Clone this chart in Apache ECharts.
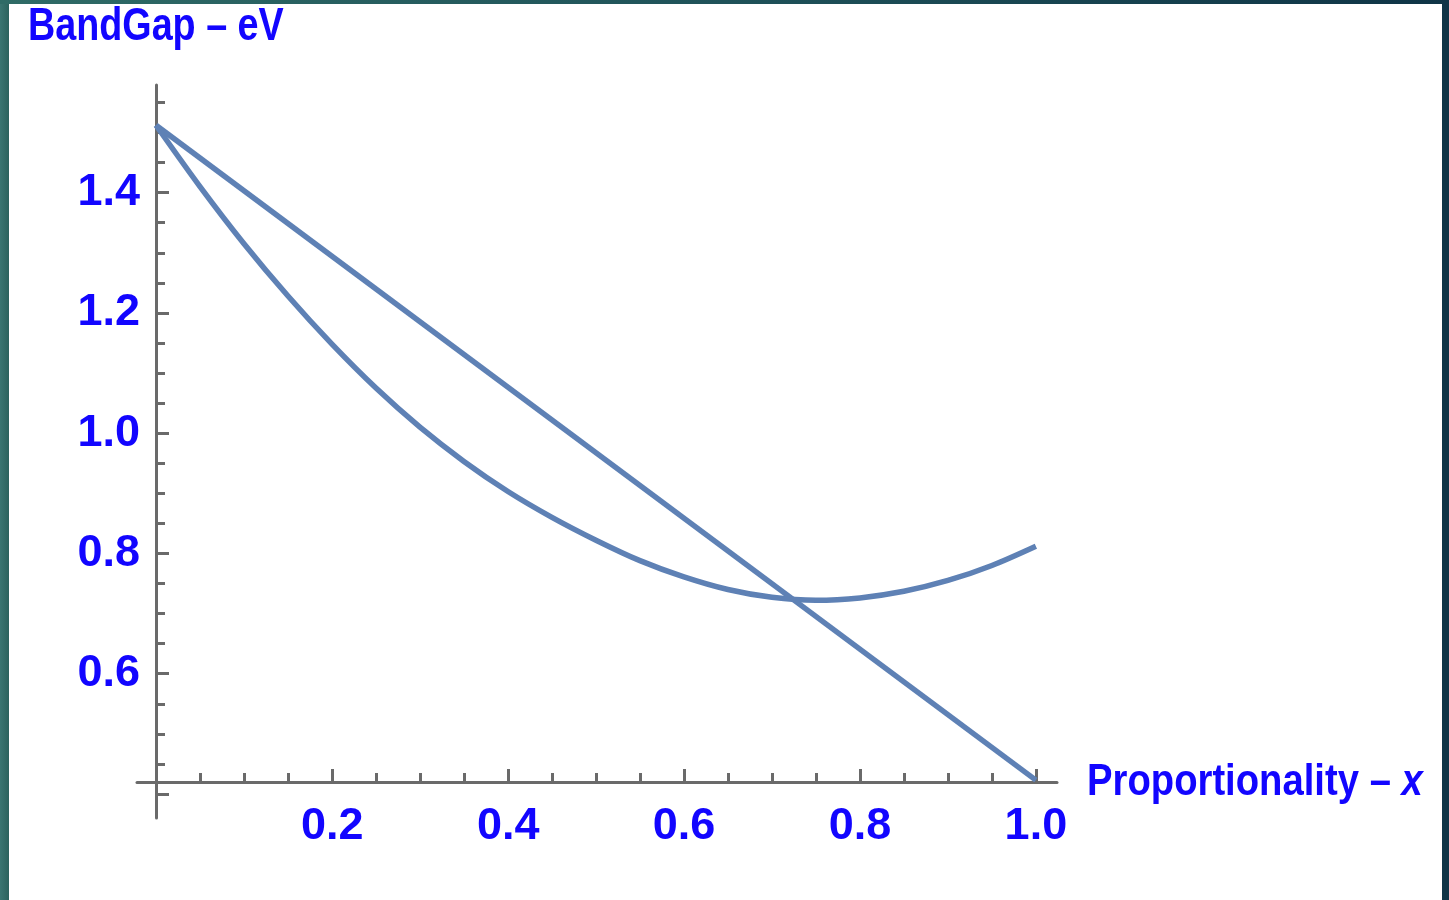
<!DOCTYPE html>
<html>
<head>
<meta charset="utf-8">
<title>BandGap vs Proportionality</title>
<script src="https://cdn.jsdelivr.net/npm/echarts@6/dist/echarts.min.js"></script>
<style>
  html, body { margin: 0; padding: 0; background: #ffffff; }
  #chart { width: 1449px; height: 900px; }
</style>
</head>
<body>
<div id="chart"></div>
<script>
// Composition x (0 … 1) and band gap values in eV
const composition = [0, 0.05, 0.1, 0.15, 0.2, 0.25, 0.3, 0.35, 0.4, 0.45, 0.5,
                     0.55, 0.6, 0.65, 0.7, 0.75, 0.8, 0.85, 0.9, 0.95, 1.0];
const bowedGap    = [1.512, 1.410, 1.315, 1.228, 1.148, 1.075, 1.010, 0.953, 0.903, 0.860, 0.822,
                     0.788, 0.761, 0.740, 0.727, 0.722, 0.726, 0.737, 0.755, 0.780, 0.812];
// Straight (linear) interpolation between the two end compounds
const linearX   = [0, 1.0];
const linearGap = [1.512, 0.423];

// Tick positions and labels
const xLabelTicks = [0.2, 0.4, 0.6, 0.8, 1.0];
const xMinorTicks = [0.05, 0.1, 0.15, 0.25, 0.3, 0.35, 0.45, 0.5, 0.55,
                     0.65, 0.7, 0.75, 0.85, 0.9, 0.95];
const yLabelTicks = [0.6, 0.8, 1.0, 1.2, 1.4];
const yMajorTicks = [0.4, 0.6, 0.8, 1.0, 1.2, 1.4];
const yMinorTicks = [0.45, 0.5, 0.55, 0.65, 0.7, 0.75, 0.85, 0.9, 0.95, 1.05, 1.1, 1.15,
                     1.25, 1.3, 1.35, 1.45, 1.5, 1.55];

const xTitle = 'Proportionality – ';
const xTitleVar = 'x';
const yTitle = 'BandGap – eV';

const AXIS = '#6a6a6a';
const LABEL = '#1205ff';
const CURVE = '#5e81b5';
const FONT = '"Liberation Sans", Arial, sans-serif';

const fmt = v => v.toFixed(1);

const chart = echarts.init(document.getElementById('chart'), null, { renderer: 'canvas' });

chart.setOption({
  backgroundColor: '#ffffff',
  animation: false,
  grid: [
    // plotting area (y axis line spans its full height)
    { left: 156, right: 392, top: 85, bottom: 82, containLabel: false, outerBoundsMode: 'none' },
    // carries the horizontal axis, which crosses the y axis slightly above its foot
    { left: 137, right: 392, top: 85, bottom: 118, containLabel: false, outerBoundsMode: 'none' }
  ],
  xAxis: [
    { gridIndex: 0, type: 'value', min: 0, max: 1.024, show: false },
    {
      gridIndex: 1, type: 'value', min: -0.022, max: 1.024, position: 'bottom',
      axisLine: { show: true, onZero: false, lineStyle: { color: AXIS, width: 3 } },
      axisTick: { show: true, inside: true, length: 13, customValues: xLabelTicks,
                  lineStyle: { color: AXIS, width: 3 } },
      axisLabel: { show: true, customValues: xLabelTicks, formatter: fmt, margin: 22,
                   color: LABEL, fontFamily: FONT, fontSize: 45, fontWeight: 'bold' },
      splitLine: { show: false }
    },
    {
      gridIndex: 1, type: 'value', min: -0.022, max: 1.024, position: 'bottom',
      axisLine: { show: false, onZero: false },
      axisTick: { show: true, inside: true, length: 9, customValues: xMinorTicks,
                  lineStyle: { color: AXIS, width: 3 } },
      axisLabel: { show: false },
      splitLine: { show: false }
    }
  ],
  yAxis: [
    {
      gridIndex: 0, type: 'value', min: 0.36, max: 1.579, position: 'left',
      axisLine: { show: true, onZero: false, lineStyle: { color: AXIS, width: 3 } },
      axisTick: { show: true, inside: true, length: 13, customValues: yMajorTicks,
                  lineStyle: { color: AXIS, width: 3 } },
      axisLabel: { show: true, customValues: yLabelTicks, formatter: fmt, margin: 16,
                   color: LABEL, fontFamily: FONT, fontSize: 45, fontWeight: 'bold' },
      splitLine: { show: false }
    },
    { gridIndex: 1, type: 'value', min: 0, max: 1, show: false },
    {
      gridIndex: 0, type: 'value', min: 0.36, max: 1.579, position: 'left', offset: 0,
      axisLine: { show: false, onZero: false },
      axisTick: { show: true, inside: true, length: 9, customValues: yMinorTicks,
                  lineStyle: { color: AXIS, width: 3 } },
      axisLabel: { show: false },
      splitLine: { show: false }
    }
  ],
  series: [
    {
      name: 'linear', type: 'line', xAxisIndex: 0, yAxisIndex: 0,
      data: linearX.map((x, i) => [x, linearGap[i]]),
      showSymbol: false, clip: false,
      lineStyle: { color: CURVE, width: 5.5 }
    },
    {
      name: 'bowed', type: 'line', xAxisIndex: 0, yAxisIndex: 0,
      data: composition.map((x, i) => [x, bowedGap[i]]),
      showSymbol: false, clip: false, smooth: 0.3,
      lineStyle: { color: CURVE, width: 5.5 }
    }
  ],
  graphic: [
    // axis titles (condensed horizontally)
    { type: 'text', x: 28, y: 27, scaleX: 0.82, z: 50,
      style: { text: yTitle, fill: LABEL, font: 'bold 46px "Liberation Sans", Arial, sans-serif',
               align: 'left', verticalAlign: 'middle' } },
    { type: 'text', x: 1087, y: 783, scaleX: 0.85, z: 50,
      style: {
        text: '{n|' + xTitle + '}{i|' + xTitleVar + '}',
        align: 'left', verticalAlign: 'middle',
        rich: {
          n: { fill: LABEL, fontFamily: FONT, fontSize: 45, fontWeight: 'bold' },
          i: { fill: LABEL, fontFamily: FONT, fontSize: 45, fontWeight: 'bold', fontStyle: 'italic' }
        }
      } },
    // slide frame: left, top and right edges
    { type: 'rect', z: 100, shape: { x: 0, y: 0, width: 9, height: 900 },
      style: { fill: new echarts.graphic.LinearGradient(0, 0, 1, 0, [
        { offset: 0, color: '#3a7571' }, { offset: 1, color: '#2b625d' }]) } },
    { type: 'rect', z: 100, shape: { x: 0, y: 0, width: 1449, height: 4 },
      style: { fill: new echarts.graphic.LinearGradient(0, 0, 1, 0, [
        { offset: 0, color: '#2f6b66' }, { offset: 0.5, color: '#1f5259' }, { offset: 1, color: '#0f3446' }]) } },
    { type: 'rect', z: 100, shape: { x: 1442, y: 0, width: 7, height: 900 },
      style: { fill: '#0f3447' } }
  ]
});
</script>
</body>
</html>
